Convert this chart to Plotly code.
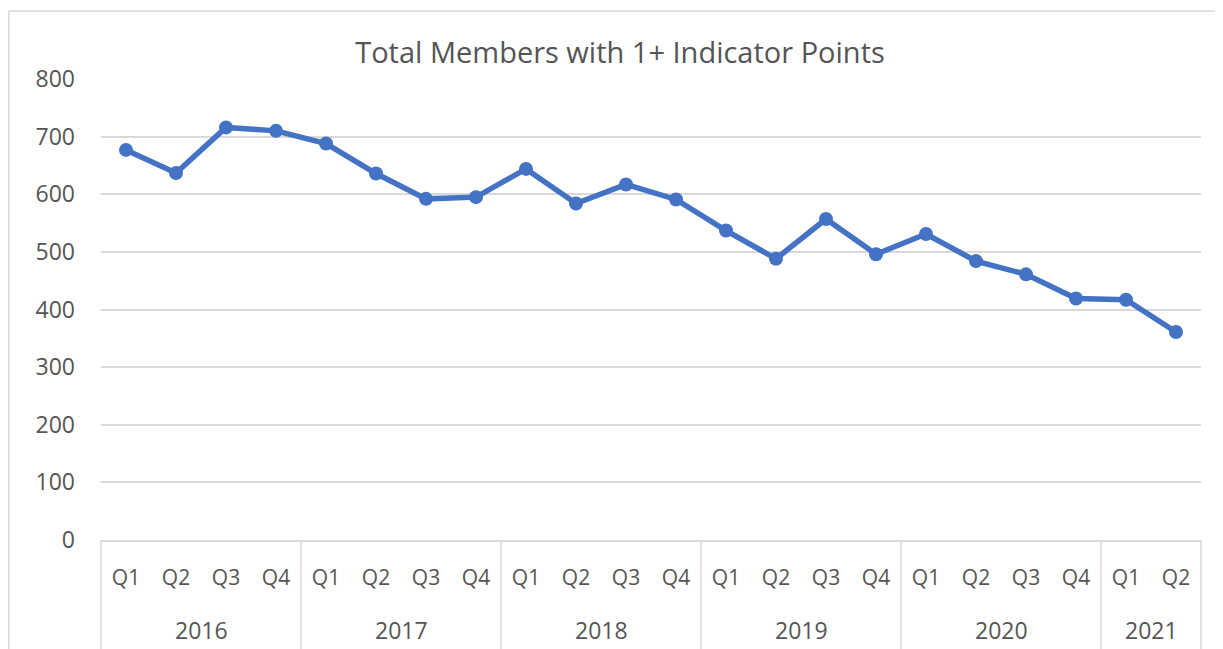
import plotly.graph_objects as go

# ---- data ----
years = ["2016", "2016", "2016", "2016",
         "2017", "2017", "2017", "2017",
         "2018", "2018", "2018", "2018",
         "2019", "2019", "2019", "2019",
         "2020", "2020", "2020", "2020",
         "2021", "2021"]
quarters = ["Q1", "Q2", "Q3", "Q4"] * 5 + ["Q1", "Q2"]
members = [677, 637, 716, 710, 688, 636, 592, 595, 644, 584, 617, 591,
           537, 488, 557, 496, 531, 484, 461, 419, 417, 361]
year_labels = ["2016", "2017", "2018", "2019", "2020", "2021"]
title_text = "Total Members with 1+ Indicator Points"

idx = list(range(len(members)))
n = len(members)

TEXT = "#555555"
GRID = "#d9d9d9"
LINE = "#4472C4"
FONT = "Open Sans"

W, H = 1215, 641
L, R, T, B = 93, 22, 71, 109
PW, PH = W - L - R, H - T - B

fig = go.Figure()
fig.add_trace(go.Scatter(
    x=idx, y=members, mode="lines+markers",
    line=dict(color=LINE, width=5.5),
    marker=dict(color=LINE, size=14),
    hoverinfo="y",
    showlegend=False,
))

# group boundaries and centres derived from the data
bounds = [-0.5]
centres = []
for yl in year_labels:
    pos = [i for i, y in enumerate(years) if y == yl]
    bounds.append(pos[-1] + 0.5)
    centres.append(sum(pos) / len(pos))

shapes = []
for b in bounds:
    px = (b + 0.5) / n
    shapes.append(dict(type="line", xref="paper", yref="paper",
                       x0=px, x1=px, y0=0, y1=-0.3,
                       line=dict(color=GRID, width=1.5)))
# chart-area border (top and left)
bx = (0.75 - L) / PW
by = (T + PH - 3) / PH
shapes.append(dict(type="line", xref="paper", yref="paper",
                   x0=bx, x1=1.05, y0=by, y1=by,
                   line=dict(color=GRID, width=1.5)))
shapes.append(dict(type="line", xref="paper", yref="paper",
                   x0=bx, x1=bx, y0=by, y1=-0.3,
                   line=dict(color=GRID, width=1.5)))

annotations = []
for yl, c in zip(year_labels, centres):
    annotations.append(dict(x=c, xref="x", y=-0.195, yref="paper",
                            text=yl, showarrow=False,
                            font=dict(family=FONT, size=23, color=TEXT),
                            xanchor="center", yanchor="middle"))

fig.update_layout(
    width=W, height=H,
    margin=dict(l=L, r=R, t=T, b=B),
    paper_bgcolor="white", plot_bgcolor="white",
    title=dict(text=title_text, x=612 / W, xanchor="center",
               y=1 - 45 / H, yanchor="middle",
               font=dict(family=FONT, size=29, color=TEXT)),
    xaxis=dict(range=[-0.5, n - 0.5], tickmode="array", tickvals=idx,
               ticktext=quarters, showgrid=False, zeroline=False,
               showline=True, linecolor=GRID, linewidth=1.5,
               ticks="", ticklabelstandoff=18,
               tickfont=dict(family=FONT, size=21, color=TEXT)),
    yaxis=dict(range=[0, 800], dtick=100, showgrid=True, gridcolor=GRID,
               gridwidth=1.5, zeroline=False, showline=False, ticks="",
               ticklabelstandoff=25,
               tickfont=dict(family=FONT, size=23, color=TEXT)),
    shapes=shapes, annotations=annotations,
    font=dict(family=FONT, color=TEXT),
)

fig.write_html("out.html")
